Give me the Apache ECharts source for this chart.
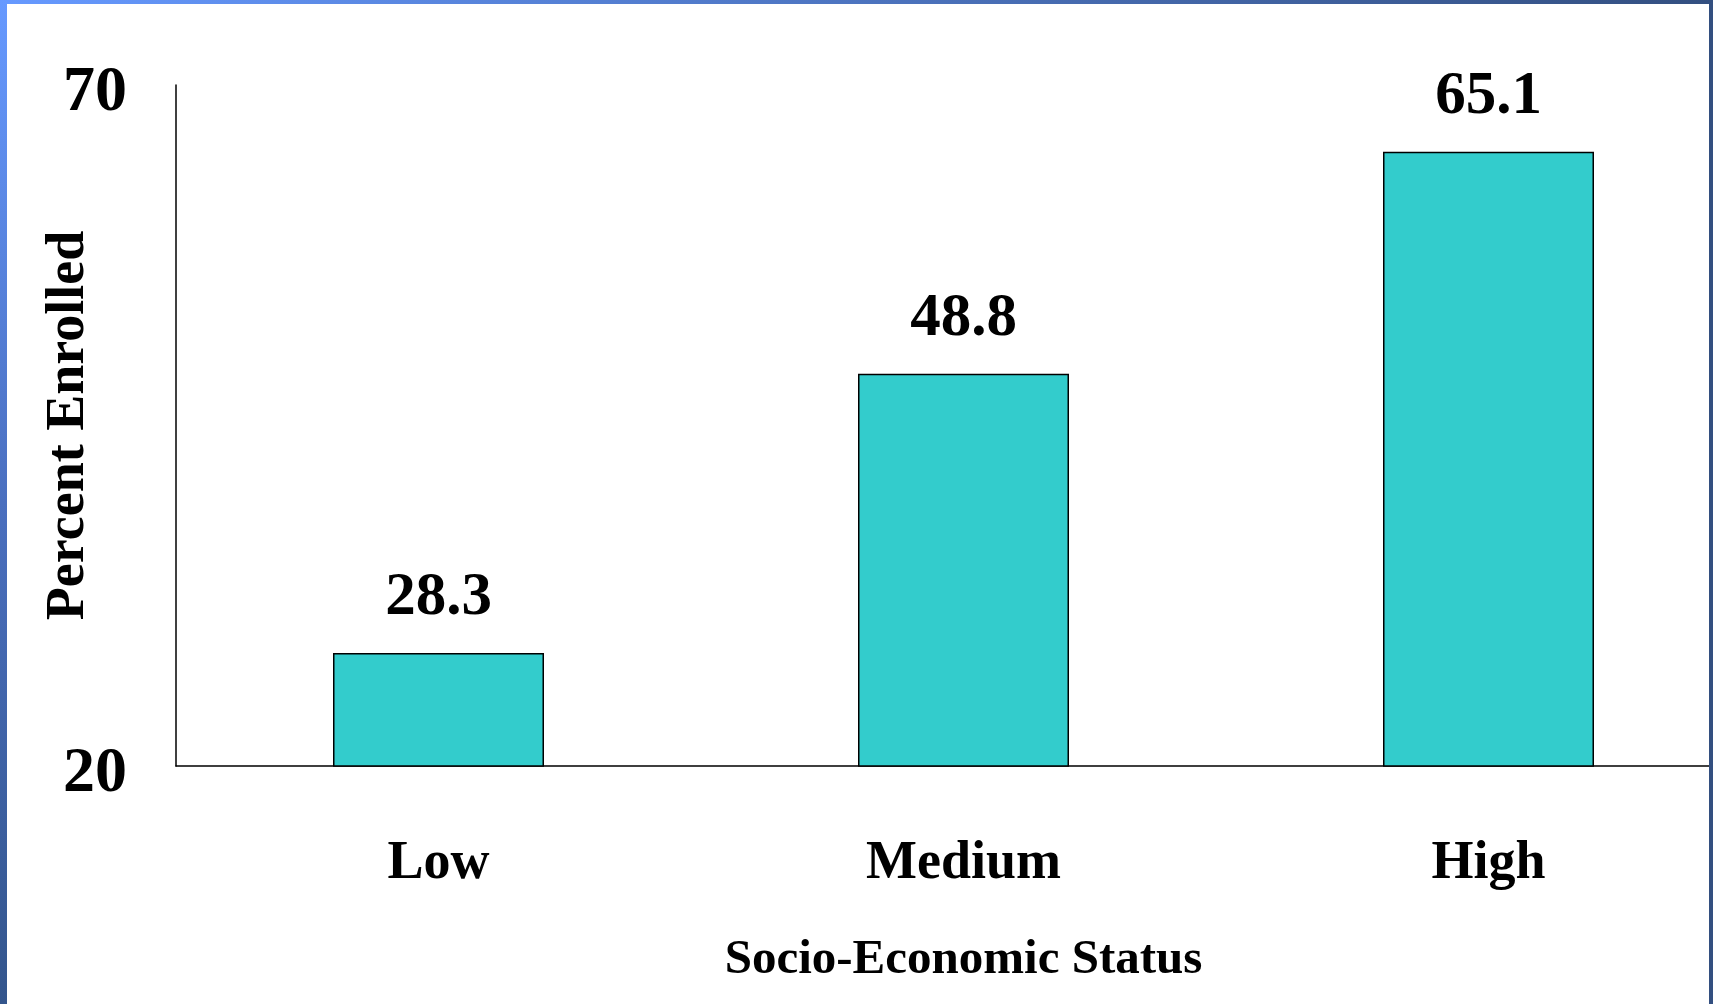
<!DOCTYPE html>
<html>
<head>
<meta charset="utf-8">
<script src="https://cdn.jsdelivr.net/npm/echarts@6/dist/echarts.min.js"></script>
<style>
  html, body { margin: 0; padding: 0; background: #fff; }
  #chart { width: 1713px; height: 1004px; }
</style>
</head>
<body>
<div id="chart"></div>
<script>
const categories = ["Low", "Medium", "High"];
const percentEnrolled = [28.3, 48.8, 65.1];
const yTickLabels = [20, 70];
const xAxisTitle = "Socio-Economic Status";
const yAxisTitle = "Percent Enrolled";

const FONT = "'Liberation Serif', 'Times New Roman', serif";
const chart = echarts.init(document.getElementById('chart'), null, { renderer: 'canvas' });

chart.setOption({
  backgroundColor: '#ffffff',
  animation: false,
  grid: { left: 176, top: 85, right: -38, bottom: 238, containLabel: false, outerBoundsMode: 'none' },
  xAxis: {
    type: 'category',
    data: categories,
    axisLine: { show: true, lineStyle: { color: '#000', width: 1.5 } },
    axisTick: { show: false },
    axisLabel: { interval: 0, margin: 71, color: '#000', fontFamily: FONT, fontWeight: 'bold', fontSize: 54 },
    name: xAxisTitle,
    nameLocation: 'middle',
    nameGap: 170,
    nameMoveOverlap: false,
    nameTextStyle: { color: '#000', fontFamily: FONT, fontWeight: 'bold', fontSize: 49 }
  },
  yAxis: {
    type: 'value',
    min: 20,
    max: 70,
    interval: 10,
    axisLine: { show: true, lineStyle: { color: '#000', width: 1.5 } },
    axisTick: { show: false },
    splitLine: { show: false },
    axisLabel: {
      margin: 49,
      verticalAlign: 'top',
      lineHeight: 16,
      color: '#000', fontFamily: FONT, fontWeight: 'bold', fontSize: 64,
      formatter: v => yTickLabels.includes(v) ? String(v) : ''
    },
    name: yAxisTitle,
    nameLocation: 'middle',
    nameGap: 80,
    nameRotate: 90,
    nameMoveOverlap: false,
    nameTextStyle: { color: '#000', fontFamily: FONT, fontWeight: 'bold', fontSize: 54 }
  },
  series: [{
    type: 'bar',
    data: percentEnrolled,
    barWidth: 211,
    itemStyle: { color: '#33CCCC', borderColor: '#000', borderWidth: 1.5 },
    label: {
      show: true, position: 'top', distance: 24,
      color: '#000', fontFamily: FONT, fontWeight: 'bold', fontSize: 61,
      formatter: p => p.value.toFixed(1)
    }
  }],
  graphic: [
    { type: 'rect', left: 0, top: 0, shape: { width: 7, height: 1004 }, z: 100,
      style: { fill: new echarts.graphic.LinearGradient(0, 0, 0, 1, [
        { offset: 0, color: '#6699ff' }, { offset: 0.5, color: '#4a6fbf' }, { offset: 1, color: '#33558c' }]) } },
    { type: 'rect', left: 0, top: 0, shape: { width: 1713, height: 4 }, z: 100,
      style: { fill: new echarts.graphic.LinearGradient(0, 0, 1, 0, [
        { offset: 0, color: '#6699ff' }, { offset: 1, color: '#334f80' }]) } },
    { type: 'rect', right: 0, top: 0, shape: { width: 4, height: 1004 }, z: 100,
      style: { fill: '#334f80' } }
  ]
});
</script>
</body>
</html>
